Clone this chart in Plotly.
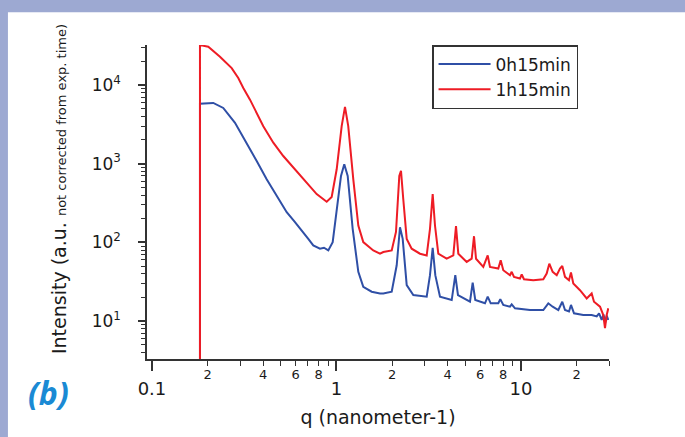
import plotly.graph_objects as go

# ---- data (q in nm^-1, intensity a.u.) ----
q_0h15 = [0.182, 0.182, 0.2149, 0.2434, 0.2818, 0.3261, 0.3694, 0.4184, 0.4741, 0.5372,
          0.5957, 0.6607, 0.7034, 0.7484, 0.8138, 0.8554, 0.9028, 0.9537, 1.0025, 1.058,
          1.102, 1.150, 1.224, 1.313, 1.397, 1.551, 1.721, 1.794, 1.992, 2.120,
          2.209, 2.285, 2.402, 2.608, 3.083, 3.212, 3.322, 3.432, 3.639, 4.212,
          4.405, 4.555, 5.291, 5.472, 5.652, 6.381, 6.600, 6.852, 7.534, 7.724,
          8.018, 8.717, 8.906, 9.280, 11.19, 13.21, 14.06, 14.85, 15.93, 16.74,
          17.32, 18.20, 18.66, 19.38, 21.76, 24.16, 25.73, 26.5, 27.38, 28.0,
          28.6, 29.14, 29.7]
I_0h15 = [1, 5780, 5890, 5090, 3300, 1845, 1082, 636, 392, 242,
          181, 135, 111, 91.6, 83.4, 85.7, 79.3, 101, 266, 700,
          982, 700, 149, 42.4, 27.4, 23.7, 22.5, 22.5, 23.7, 51.3,
          156, 111, 28.7, 21.5, 20.5, 38.4, 85.7, 38.4, 20.5, 18.6,
          38.4, 21.5, 17.7, 31.0, 18.6, 16.9, 20.5, 16.9, 16.9, 19.1,
          16.1, 15.3, 16.4, 14.6, 13.9, 13.9, 16.9, 15.3, 13.9, 17.7,
          13.9, 13.3, 16.1, 12.6, 12.0, 12.0, 11.5, 12.6, 10.4, 12.2,
          9.6, 11.8, 10.4]

q_1h15 = [0.182, 0.182, 0.2019, 0.2149, 0.2336, 0.2704, 0.2936, 0.3126, 0.3398, 0.4012,
          0.4545, 0.5147, 0.5832, 0.6607, 0.7184, 0.7809, 0.8849, 0.9418, 1.0025, 1.067,
          1.112, 1.158, 1.233, 1.313, 1.397, 1.583, 1.721, 1.794, 1.992, 2.101,
          2.190, 2.237, 2.301, 2.402, 2.556, 2.836, 3.083, 3.212, 3.322, 3.419,
          3.563, 3.956, 4.297, 4.444, 4.573, 5.078, 5.405, 5.564, 5.704, 6.247,
          6.600, 6.792, 7.534, 7.762, 8.018, 8.717, 8.906, 9.165, 9.876, 10.09,
          10.38, 11.66, 13.21, 13.78, 14.24, 14.85, 15.62, 16.27, 16.74, 17.32,
          18.20, 18.66, 19.21, 20.88, 22.71, 24.16, 24.87, 26.81, 27.93, 28.53,
          29.14, 29.73]
I_1h15 = [1, 32000, 30500, 27200, 22800, 16300, 12200, 9120, 6490, 2990,
          1845, 1250, 893, 636, 500, 411, 329, 377, 849, 2990,
          5250, 2990, 636, 164, 101, 79.3, 72.0, 75.7, 79.3, 136,
          700, 809, 356, 111, 83.4, 72.0, 68.5, 149, 411, 164,
          72.0, 62.2, 68.5, 161, 72.0, 56.6, 62.2, 120, 62.2, 49.0,
          68.5, 49.0, 46.6, 59.3, 44.4, 38.4, 42.4, 36.6, 34.8, 39.2,
          34.1, 33.2, 34.1, 40.3, 53.8, 42.4, 38.4, 46.6, 50.4, 36.6,
          33.2, 41.5, 30.1, 24.8, 19.5, 22.5, 17.7, 15.3, 12.0, 8.2,
          12.0, 14.6]

x_major_vals = [0.1, 1, 10]
x_major_text = ["0.1", "1", "10"]
x_small_vals = [0.2, 0.4, 0.6, 0.8, 2, 4, 6, 8, 20]
x_small_text = ["2", "4", "6", "8", "2", "4", "6", "8", "2"]
x_minor_vals = [m * d for d in (0.1, 1, 10) for m in range(2, 10)]

y_major_vals = [10, 100, 1000, 10000]
y_major_text = ["10<sup>1</sup>", "10<sup>2</sup>", "10<sup>3</sup>", "10<sup>4</sup>"]
y_minor_vals = [m * d for d in (1, 10, 100, 1000, 10000) for m in range(2, 10)]

FONT = "DejaVu Sans, Verdana, sans-serif"
TXT = "#1a1a1a"

fig = go.Figure()
fig.add_trace(go.Scatter(x=q_0h15, y=I_0h15, mode="lines", name="0h15min",
                         line=dict(color="#2f4fa6", width=2)))
fig.add_trace(go.Scatter(x=q_1h15, y=I_1h15, mode="lines", name="1h15min",
                         line=dict(color="#ee1c25", width=2)))
# invisible trace on overlay axis carrying the small tick labels
fig.add_trace(go.Scatter(x=[0.5], y=[100], xaxis="x2", mode="markers",
                         marker=dict(opacity=0), showlegend=False, hoverinfo="skip"))

fig.update_layout(
    width=685, height=437,
    margin=dict(l=147, r=76, t=45, b=76),
    paper_bgcolor="#9da9d2",
    plot_bgcolor="white",
    font=dict(family=FONT, color=TXT),
    shapes=[dict(type="rect", xref="paper", yref="paper",
                 x0=-0.301, x1=1.3, y0=-0.4, y1=1.1044,
                 fillcolor="white", line=dict(width=0), layer="below")],
    xaxis=dict(type="log", range=[-1.027, 1.477], showgrid=False, zeroline=False,
               showline=True, linecolor="#333", linewidth=1.5, mirror=False,
               ticks="outside", tickvals=x_major_vals, ticktext=x_major_text,
               ticklen=10, tickwidth=1.5, tickcolor="#333",
               tickfont=dict(size=18, color=TXT), ticklabelstandoff=3,
               minor=dict(tickvals=x_minor_vals, ticks="outside", ticklen=5,
                          tickwidth=1.2, tickcolor="#333"),
               title=dict(text="q (nanometer-1)", font=dict(size=19, color=TXT), standoff=12)),
    xaxis2=dict(type="log", range=[-1.027, 1.477], overlaying="x", anchor="y", side="bottom",
                showgrid=False, zeroline=False, showline=False, ticks="",
                tickvals=x_small_vals, ticktext=x_small_text,
                tickfont=dict(size=13, color=TXT), ticklabelstandoff=6),
    yaxis=dict(type="log", range=[0.521, 4.506], showgrid=False, zeroline=False,
               showline=True, linecolor="#333", linewidth=1.5,
               ticks="outside", tickvals=y_major_vals, ticktext=y_major_text,
               ticklen=7, tickwidth=1.5, tickcolor="#333",
               tickfont=dict(size=17, color=TXT), ticklabelstandoff=14,
               minor=dict(tickvals=y_minor_vals, ticks="outside", ticklen=4,
                          tickwidth=1.2, tickcolor="#333")),
    legend=dict(x=0.617, y=1.0, xanchor="left", yanchor="top",
                bgcolor="white", bordercolor="#333", borderwidth=1.5,
                font=dict(size=17, color=TXT), tracegroupgap=0, itemwidth=52),
    annotations=[
        dict(text='Intensity (a.u. <span style="font-size:13px">not corrected from exp. time)</span>',
             xref="paper", yref="paper", x=-0.1905, y=(361 - 190) / 316, textangle=-90,
             showarrow=False, font=dict(size=19, color=TXT), xanchor="center", yanchor="middle"),
        dict(text="<b><i>(b)</i></b>", xref="paper", yref="paper",
             x=(48 - 147) / 462, y=(361 - 395) / 316, showarrow=False,
             font=dict(size=32, color="#1a8ad4", family="Open Sans, Noto Sans, sans-serif"),
             xanchor="center", yanchor="middle"),
    ],
)

fig.write_html("out.html", config={"displayModeBar": False},
               post_script="document.body.style.margin='0';document.body.style.overflow='hidden';")
